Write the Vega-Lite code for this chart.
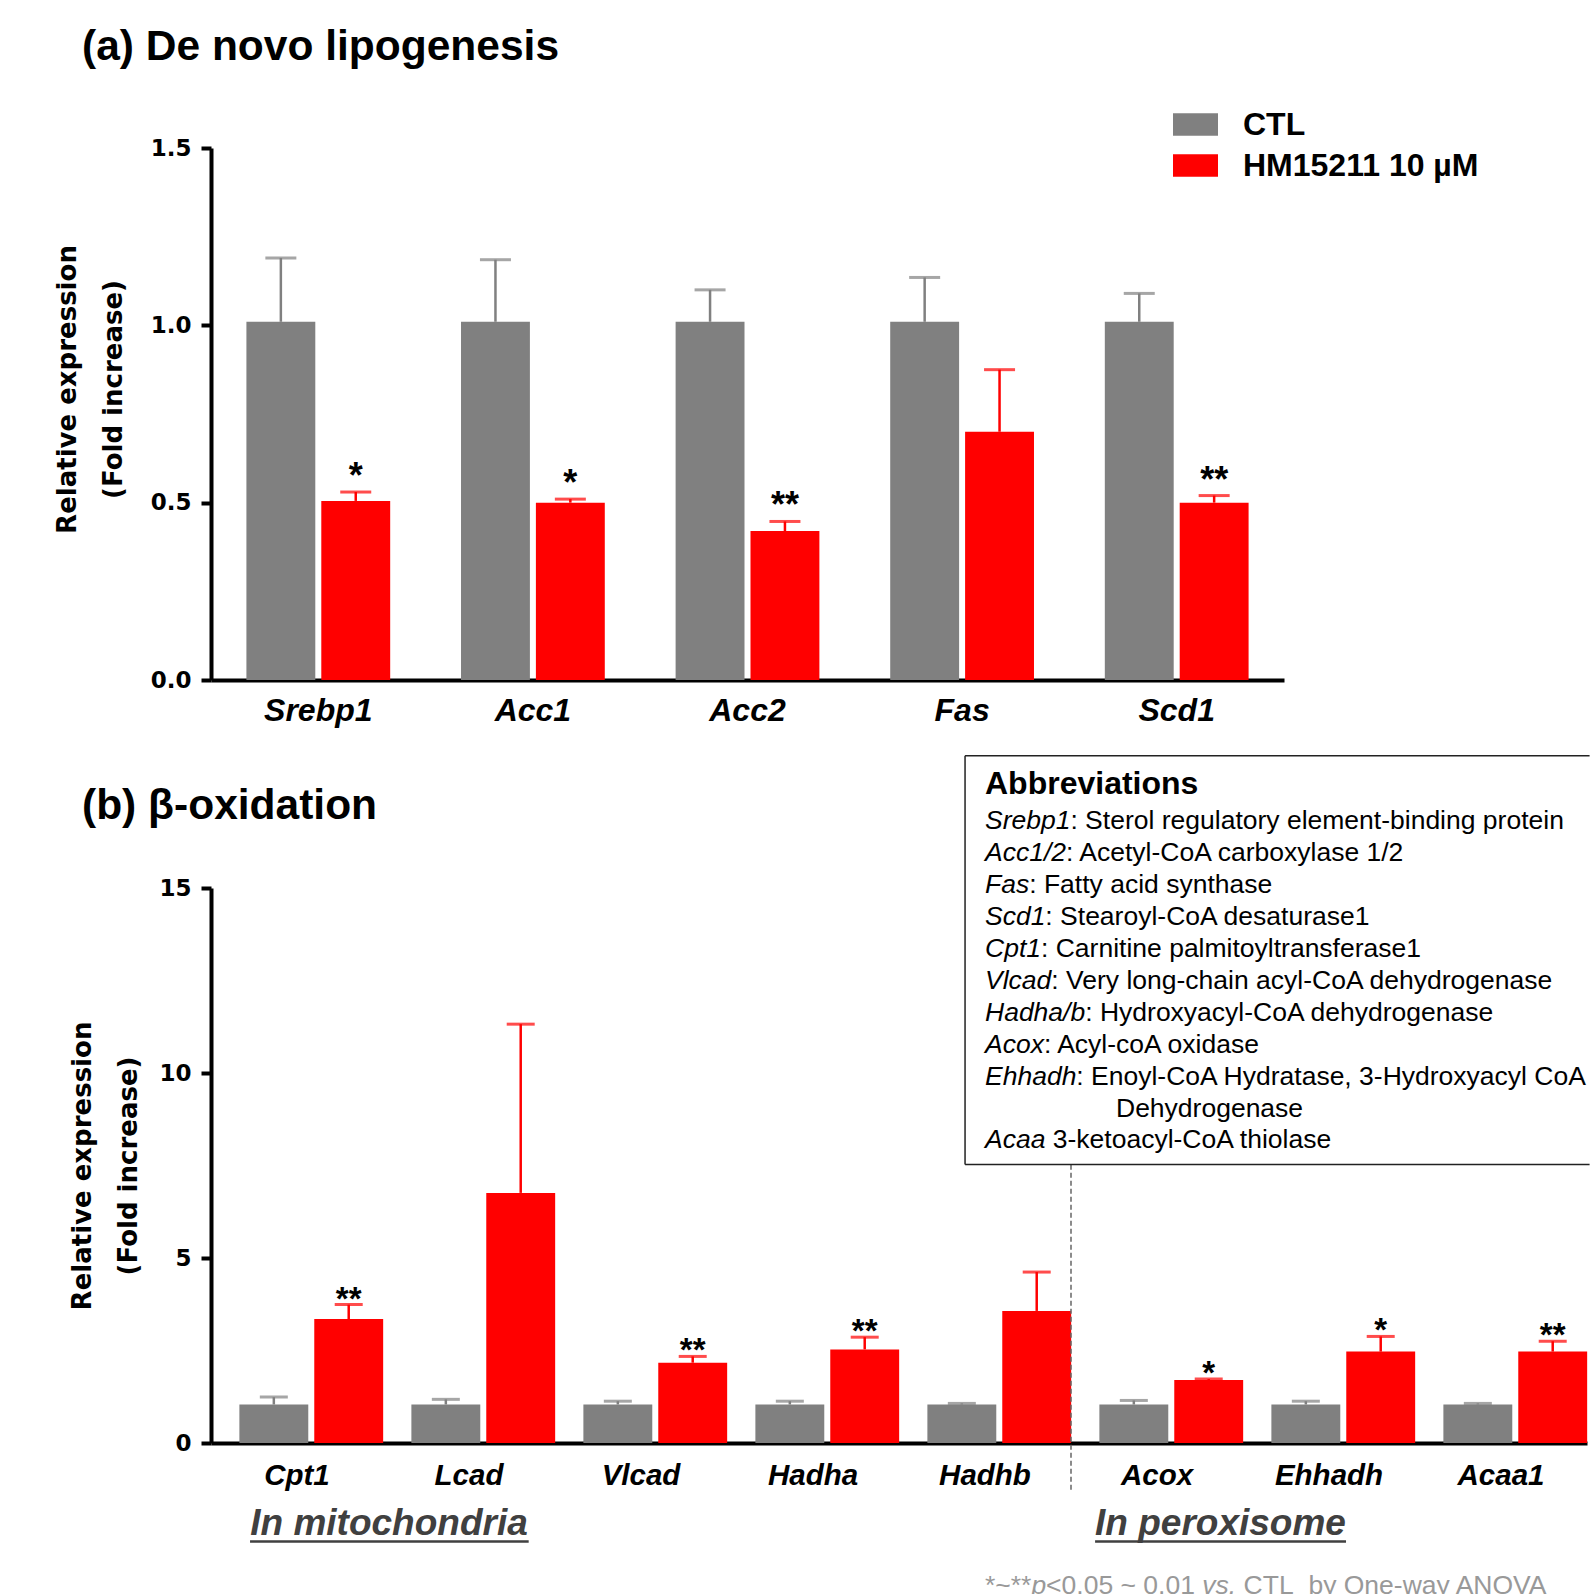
{
  "$schema": "https://vega.github.io/schema/vega-lite/v6.json",
  "background": "white",
  "padding": {"left": 54, "top": 25, "right": 0, "bottom": -6},
  "config": {
    "view": {"stroke": null},
    "font": "Liberation Sans",
    "axis": {"grid": false, "domainColor": "black", "tickColor": "black", "labelColor": "black", "titleColor": "black"},
    "text": {"font": "Liberation Sans", "fontSize": 26.5, "baseline": "top", "align": "left", "color": "black"}
  },
  "bounds": "flush",
  "spacing": 208,
  "resolve": {"scale": {"color": "independent"}, "legend": {"color": "independent"}},
  "datasets": {
    "lipo": [
      {"gene": "Srebp1", "group": "CTL", "mean": 1.01, "upper": 1.19, "sig": ""},
      {"gene": "Srebp1", "group": "HM15211 10 µM", "mean": 0.505, "upper": 0.53, "sig": "*"},
      {"gene": "Acc1", "group": "CTL", "mean": 1.01, "upper": 1.185, "sig": ""},
      {"gene": "Acc1", "group": "HM15211 10 µM", "mean": 0.5, "upper": 0.51, "sig": "*"},
      {"gene": "Acc2", "group": "CTL", "mean": 1.01, "upper": 1.1, "sig": ""},
      {"gene": "Acc2", "group": "HM15211 10 µM", "mean": 0.42, "upper": 0.447, "sig": "**"},
      {"gene": "Fas", "group": "CTL", "mean": 1.01, "upper": 1.135, "sig": ""},
      {"gene": "Fas", "group": "HM15211 10 µM", "mean": 0.7, "upper": 0.875, "sig": ""},
      {"gene": "Scd1", "group": "CTL", "mean": 1.01, "upper": 1.09, "sig": ""},
      {"gene": "Scd1", "group": "HM15211 10 µM", "mean": 0.5, "upper": 0.52, "sig": "**"}
    ],
    "beta": [
      {"gene": "Cpt1", "group": "CTL", "mean": 1.04, "upper": 1.24, "sig": ""},
      {"gene": "Cpt1", "group": "HM15211 10 µM", "mean": 3.35, "upper": 3.74, "sig": "**"},
      {"gene": "Lcad", "group": "CTL", "mean": 1.04, "upper": 1.18, "sig": ""},
      {"gene": "Lcad", "group": "HM15211 10 µM", "mean": 6.76, "upper": 11.32, "sig": ""},
      {"gene": "Vlcad", "group": "CTL", "mean": 1.04, "upper": 1.13, "sig": ""},
      {"gene": "Vlcad", "group": "HM15211 10 µM", "mean": 2.17, "upper": 2.34, "sig": "**"},
      {"gene": "Hadha", "group": "CTL", "mean": 1.04, "upper": 1.13, "sig": ""},
      {"gene": "Hadha", "group": "HM15211 10 µM", "mean": 2.53, "upper": 2.86, "sig": "**"},
      {"gene": "Hadhb", "group": "CTL", "mean": 1.04, "upper": 1.07, "sig": ""},
      {"gene": "Hadhb", "group": "HM15211 10 µM", "mean": 3.57, "upper": 4.62, "sig": ""},
      {"gene": "Acox", "group": "CTL", "mean": 1.04, "upper": 1.15, "sig": ""},
      {"gene": "Acox", "group": "HM15211 10 µM", "mean": 1.7, "upper": 1.73, "sig": "*"},
      {"gene": "Ehhadh", "group": "CTL", "mean": 1.04, "upper": 1.13, "sig": ""},
      {"gene": "Ehhadh", "group": "HM15211 10 µM", "mean": 2.47, "upper": 2.88, "sig": "*"},
      {"gene": "Acaa1", "group": "CTL", "mean": 1.04, "upper": 1.07, "sig": ""},
      {"gene": "Acaa1", "group": "HM15211 10 µM", "mean": 2.47, "upper": 2.75, "sig": "**"}
    ]
  },
  "vconcat": [
    {
      "width": 1073,
      "height": 532,
      "title": {"text": "(a) De novo lipogenesis", "anchor": "start", "frame": "group", "dx": -129, "offset": 34, "fontSize": 42.5, "font": "Liberation Sans", "fontWeight": "bold", "color": "black"},
      "data": {"name": "lipo"},
      "encoding": {
        "x": {"field": "gene", "type": "nominal", "sort": ["Srebp1", "Acc1", "Acc2", "Fas", "Scd1"],
          "scale": {"paddingInner": 0.33, "paddingOuter": 0.165},
          "axis": {"title": null, "ticks": false, "domainWidth": 4, "labelFontSize": 32, "labelFontStyle": "italic", "labelFontWeight": "bold", "labelPadding": 15, "labelAngle": 0}},
        "xOffset": {"field": "group", "type": "nominal", "sort": ["CTL", "HM15211 10 µM"], "scale": {"paddingInner": 0.08, "paddingOuter": 0}}
      },
      "layer": [
        {
          "mark": {"type": "bar"},
          "encoding": {
            "y": {"field": "mean", "type": "quantitative", "scale": {"domain": [0, 1.5], "nice": false},
              "axis": {"title": ["Relative expression", "(Fold increase)"], "values": [0, 0.5, 1, 1.5], "format": ".1f", "domainWidth": 4, "tickWidth": 4, "tickSize": 10,
                "labelFont": "DejaVu Sans", "labelFontWeight": "bold", "labelFontSize": 23, "labelPadding": 10,
                "titleFont": "DejaVu Sans", "titleFontSize": 26, "titleFontWeight": "bold", "titleLineHeight": 46, "titlePadding": 24, "titleY": 241}},
            "color": {"field": "group", "type": "nominal", "scale": {"domain": ["CTL", "HM15211 10 µM"], "range": ["#808080", "#ff0000"]},
              "legend": {"title": null, "orient": "none", "legendX": 962, "legendY": -46, "symbolType": "M-1,-0.5H1V0.5H-1Z", "symbolSize": 2025, "symbolStrokeWidth": 0, "symbolOpacity": 1,
                "labelFontSize": 32, "labelFont": "Liberation Sans", "labelFontWeight": "bold", "labelColor": "black", "labelOffset": 25, "rowPadding": 2, "padding": 0, "labelLimit": 500}}
          }
        },
        {
          "mark": {"type": "rule", "strokeWidth": 2.5},
          "encoding": {
            "y": {"field": "mean", "type": "quantitative"},
            "y2": {"field": "upper"},
            "color": {"field": "group", "type": "nominal", "legend": null}
          }
        },
        {
          "mark": {"type": "tick", "thickness": 3, "size": 31},
          "encoding": {
            "y": {"field": "upper", "type": "quantitative"},
            "color": {"field": "group", "type": "nominal", "legend": null}
          }
        },
        {
          "mark": {"type": "text", "fontSize": 36, "fontWeight": "bold", "align": "center", "baseline": "alphabetic", "dy": -4, "color": "black"},
          "encoding": {
            "y": {"field": "upper", "type": "quantitative"},
            "text": {"field": "sig"}
          }
        }
      ]
    },
    {
      "width": 1376,
      "height": 555,
      "title": {"text": "(b) β-oxidation", "anchor": "start", "frame": "group", "dx": -129, "offset": -73, "fontSize": 42.5, "font": "Liberation Sans", "fontWeight": "bold", "color": "black"},
      "resolve": {"scale": {"x": "independent"}},
      "layer": [
        {
          "data": {"name": "beta"},
          "encoding": {
            "x": {"field": "gene", "type": "nominal", "sort": ["Cpt1", "Lcad", "Vlcad", "Hadha", "Hadhb", "Acox", "Ehhadh", "Acaa1"],
              "scale": {"paddingInner": 0.33, "paddingOuter": 0.165},
              "axis": {"title": null, "ticks": false, "domainWidth": 4, "labelFontSize": 29.5, "labelFontStyle": "italic", "labelFontWeight": "bold", "labelPadding": 18, "labelAngle": 0}},
            "xOffset": {"field": "group", "type": "nominal", "sort": ["CTL", "HM15211 10 µM"], "scale": {"paddingInner": 0.067, "paddingOuter": 0}}
          },
          "layer": [
            {
              "mark": {"type": "bar"},
              "encoding": {
                "y": {"field": "mean", "type": "quantitative", "scale": {"domain": [0, 15], "nice": false},
                  "axis": {"title": ["Relative expression", "(Fold increase)"], "values": [0, 5, 10, 15], "format": "d", "domainWidth": 4, "tickWidth": 4, "tickSize": 10,
                    "labelFont": "DejaVu Sans", "labelFontWeight": "bold", "labelFontSize": 23, "labelPadding": 10,
                    "titleFont": "DejaVu Sans", "titleFontSize": 26, "titleFontWeight": "bold", "titleLineHeight": 46, "titlePadding": 17}},
                "color": {"field": "group", "type": "nominal", "scale": {"domain": ["CTL", "HM15211 10 µM"], "range": ["#808080", "#ff0000"]}, "legend": null}
              }
            },
            {
              "mark": {"type": "rule", "strokeWidth": 2.5},
              "encoding": {
                "y": {"field": "mean", "type": "quantitative"},
                "y2": {"field": "upper"},
                "color": {"field": "group", "type": "nominal", "legend": null}
              }
            },
            {
              "mark": {"type": "tick", "thickness": 3, "size": 28},
              "encoding": {
                "y": {"field": "upper", "type": "quantitative"},
                "color": {"field": "group", "type": "nominal", "legend": null}
              }
            },
            {
              "mark": {"type": "text", "fontSize": 33, "fontWeight": "bold", "align": "center", "baseline": "alphabetic", "dy": 5, "color": "black"},
              "encoding": {
                "y": {"field": "upper", "type": "quantitative"},
                "text": {"field": "sig"}
              }
            }
          ]
        },
        {
          "data": {"values": [{}]},
          "layer": [
            {
              "mark": {"type": "rule", "strokeDash": [5, 3], "strokeWidth": 1.5, "color": "#666666"},
              "encoding": {
                "x": {"datum": 5, "type": "quantitative", "scale": {"domain": [0, 8], "nice": false, "zero": false}, "axis": null},
                "y": {"datum": 7.52, "type": "quantitative"},
                "y2": {"datum": -1.34}
              }
            },
            {
              "mark": {"type": "rule", "strokeWidth": 1.5, "color": "#222222"},
              "encoding": {
                "x": {"datum": 4.384, "type": "quantitative", "axis": null},
                "y": {"datum": 18.576, "type": "quantitative"},
                "y2": {"datum": 7.525}
              }
            },
            {
              "mark": {"type": "rule", "strokeWidth": 1.5, "color": "#222222"},
              "encoding": {
                "x": {"datum": 4.384, "type": "quantitative", "axis": null},
                "x2": {"datum": 8.015},
                "y": {"datum": 18.576, "type": "quantitative"}
              }
            },
            {
              "mark": {"type": "rule", "strokeWidth": 1.5, "color": "#222222"},
              "encoding": {
                "x": {"datum": 4.384, "type": "quantitative", "axis": null},
                "x2": {"datum": 8.015},
                "y": {"datum": 7.525, "type": "quantitative"}
              }
            },
            {
              "mark": {"type": "text", "baseline": "middle", "fontSize": 32, "fontWeight": "bold"},
              "encoding": {
                "x": {"datum": 4.5, "type": "quantitative", "axis": null},
                "y": {"datum": 17.8, "type": "quantitative"},
                "text": {"value": "Abbreviations"}
              }
            },
            {
              "mark": {"type": "text", "fontStyle": "italic", "lineHeight": 31.9},
              "encoding": {
                "x": {"datum": 4.5, "type": "quantitative", "axis": null},
                "y": {"datum": 17.15, "type": "quantitative"},
                "text": {"value": ["Srebp1", "Acc1/2", "Fas", "Scd1", "Cpt1", "Vlcad", "Hadha/b", "Acox", "Ehhadh"]}
              }
            },
            {"mark": {"type": "text", "fontStyle": "italic"}, "encoding": {"x": {"datum": 4.5, "type": "quantitative", "axis": null}, "y": {"datum": 8.528, "type": "quantitative"}, "text": {"value": "Acaa"}}},
            {"mark": {"type": "text"}, "encoding": {"x": {"datum": 4.9965, "type": "quantitative", "axis": null}, "y": {"datum": 17.15, "type": "quantitative"}, "text": {"value": ": Sterol regulatory element-binding protein"}}},
            {"mark": {"type": "text"}, "encoding": {"x": {"datum": 4.971, "type": "quantitative", "axis": null}, "y": {"datum": 16.288, "type": "quantitative"}, "text": {"value": ": Acetyl-CoA carboxylase 1/2"}}},
            {"mark": {"type": "text"}, "encoding": {"x": {"datum": 4.757, "type": "quantitative", "axis": null}, "y": {"datum": 15.426, "type": "quantitative"}, "text": {"value": ": Fatty acid synthase"}}},
            {"mark": {"type": "text"}, "encoding": {"x": {"datum": 4.851, "type": "quantitative", "axis": null}, "y": {"datum": 14.563, "type": "quantitative"}, "text": {"value": ": Stearoyl-CoA desaturase1"}}},
            {"mark": {"type": "text"}, "encoding": {"x": {"datum": 4.8256, "type": "quantitative", "axis": null}, "y": {"datum": 13.701, "type": "quantitative"}, "text": {"value": ": Carnitine palmitoyltransferase1"}}},
            {"mark": {"type": "text"}, "encoding": {"x": {"datum": 4.8855, "type": "quantitative", "axis": null}, "y": {"datum": 12.839, "type": "quantitative"}, "text": {"value": ": Very long-chain acyl-CoA dehydrogenase"}}},
            {"mark": {"type": "text"}, "encoding": {"x": {"datum": 5.0826, "type": "quantitative", "axis": null}, "y": {"datum": 11.977, "type": "quantitative"}, "text": {"value": ": Hydroxyacyl-CoA dehydrogenase"}}},
            {"mark": {"type": "text"}, "encoding": {"x": {"datum": 4.8424, "type": "quantitative", "axis": null}, "y": {"datum": 11.115, "type": "quantitative"}, "text": {"value": ": Acyl-coA oxidase"}}},
            {"mark": {"type": "text"}, "encoding": {"x": {"datum": 5.0308, "type": "quantitative", "axis": null}, "y": {"datum": 10.252, "type": "quantitative"}, "text": {"value": ": Enoyl-CoA Hydratase, 3-Hydroxyacyl CoA"}}},
            {"mark": {"type": "text"}, "encoding": {"x": {"datum": 5.2616, "type": "quantitative", "axis": null}, "y": {"datum": 9.39, "type": "quantitative"}, "text": {"value": "Dehydrogenase"}}},
            {"mark": {"type": "text"}, "encoding": {"x": {"datum": 4.894, "type": "quantitative", "axis": null}, "y": {"datum": 8.528, "type": "quantitative"}, "text": {"value": "3-ketoacyl-CoA thiolase"}}},
            {
              "mark": {"type": "text", "align": "center", "baseline": "middle", "fontSize": 37, "fontWeight": "bold", "fontStyle": "italic", "color": "#404040"},
              "encoding": {
                "x": {"datum": 1.035, "type": "quantitative", "axis": null},
                "y": {"datum": -2.18, "type": "quantitative"},
                "text": {"value": "In mitochondria"}
              }
            },
            {
              "mark": {"type": "text", "align": "center", "baseline": "middle", "fontSize": 37, "fontWeight": "bold", "fontStyle": "italic", "color": "#404040"},
              "encoding": {
                "x": {"datum": 5.869, "type": "quantitative", "axis": null},
                "y": {"datum": -2.18, "type": "quantitative"},
                "text": {"value": "In peroxisome"}
              }
            },
            {
              "mark": {"type": "rule", "strokeWidth": 2.5, "color": "#404040"},
              "encoding": {
                "x": {"datum": 0.227, "type": "quantitative", "axis": null},
                "x2": {"datum": 1.847},
                "y": {"datum": -2.66, "type": "quantitative"}
              }
            },
            {
              "mark": {"type": "rule", "strokeWidth": 2.5, "color": "#404040"},
              "encoding": {
                "x": {"datum": 5.14, "type": "quantitative", "axis": null},
                "x2": {"datum": 6.599},
                "y": {"datum": -2.66, "type": "quantitative"}
              }
            },
            {"mark": {"type": "text", "baseline": "alphabetic", "color": "#999999"}, "encoding": {"x": {"datum": 4.5, "type": "quantitative", "axis": null}, "y": {"datum": -4.09, "type": "quantitative"}, "text": {"value": "*~**"}}},
            {"mark": {"type": "text", "baseline": "alphabetic", "fontStyle": "italic", "color": "#999999"}, "encoding": {"x": {"datum": 4.7698, "type": "quantitative", "axis": null}, "y": {"datum": -4.09, "type": "quantitative"}, "text": {"value": "p"}}},
            {"mark": {"type": "text", "baseline": "alphabetic", "color": "#999999"}, "encoding": {"x": {"datum": 4.8552, "type": "quantitative", "axis": null}, "y": {"datum": -4.09, "type": "quantitative"}, "text": {"value": "<0.05 ~ 0.01"}}},
            {"mark": {"type": "text", "baseline": "alphabetic", "fontStyle": "italic", "color": "#999999"}, "encoding": {"x": {"datum": 5.7634, "type": "quantitative", "axis": null}, "y": {"datum": -4.09, "type": "quantitative"}, "text": {"value": "vs."}}},
            {"mark": {"type": "text", "baseline": "alphabetic", "color": "#999999"}, "encoding": {"x": {"datum": 6.0035, "type": "quantitative", "axis": null}, "y": {"datum": -4.09, "type": "quantitative"}, "text": {"value": "CTL\u00a0\u00a0by One-way ANOVA"}}}
          ]
        }
      ]
    }
  ]
}
